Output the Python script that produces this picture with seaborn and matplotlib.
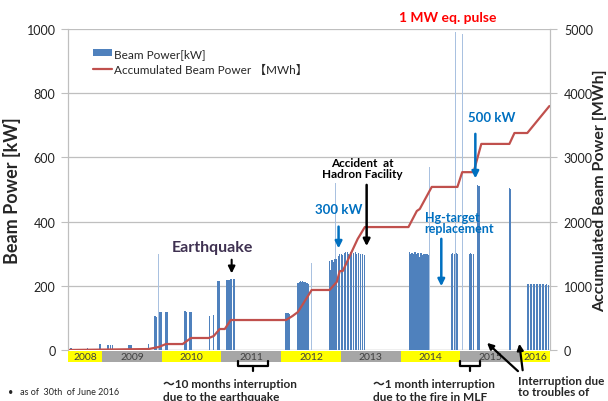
import numpy as np
import matplotlib
matplotlib.use("Agg")
import matplotlib.pyplot as plt
import matplotlib.transforms as mtransforms
from matplotlib.patches import Rectangle, Patch, FancyArrowPatch
from matplotlib.lines import Line2D
import seaborn as sns

# Beam power bars (decimal year, kW)
bar_t = [2008.48, 2008.76, 2008.965, 2009.10, 2009.14, 2009.17, 2009.45, 2009.47, 2009.49, 2009.78,
         2009.885, 2009.91, 2009.97, 2010.00, 2010.07, 2010.10,
         2010.39, 2010.42, 2010.47, 2010.49, 2010.80, 2010.87, 2010.94, 2010.96,
         2011.09, 2011.11, 2011.13, 2011.16, 2011.21,
         2012.08, 2012.10, 2012.12, 2012.14,
         2012.28, 2012.30, 2012.32, 2012.34, 2012.36, 2012.38, 2012.40, 2012.42, 2012.44, 2012.46,
         2012.81, 2012.83, 2012.85, 2012.87, 2012.90, 2012.93, 2012.96, 2012.98, 2013.01, 2013.03,
         2013.06, 2013.08, 2013.11, 2013.13, 2013.16, 2013.18, 2013.21, 2013.24, 2013.26, 2013.30,
         2013.33, 2013.36, 2013.39,
         2014.15, 2014.17, 2014.19, 2014.21, 2014.24, 2014.26, 2014.29, 2014.31, 2014.34, 2014.36,
         2014.39, 2014.41, 2014.44, 2014.46,
         2014.85, 2014.87, 2014.90, 2014.93, 2014.95,
         2015.15, 2015.17, 2015.19, 2015.22, 2015.29, 2015.31, 2015.82, 2015.84,
         2016.12, 2016.145, 2016.17, 2016.195, 2016.22, 2016.245, 2016.27, 2016.295, 2016.32,
         2016.345, 2016.37, 2016.395, 2016.42, 2016.445, 2016.47]
bar_kw = [6, 5, 19, 17, 17, 17, 16, 16, 16, 18,
          106, 104, 118, 118, 117, 118,
          120, 118, 118, 117, 105, 108, 215, 214,
          218, 219, 219, 220, 222,
          115, 116, 114, 112,
          210, 212, 214, 212, 215, 213, 212, 210, 208, 205,
          277, 250, 280, 275, 282, 285, 293, 298, 300, 296,
          302, 305, 304, 298, 306, 300, 303, 305, 300, 302,
          300, 298, 296,
          305, 300, 303, 298, 305, 300, 303, 290, 302, 295,
          300, 298, 300, 297,
          300, 302, 300, 301, 300,
          300, 302, 300, 298, 513, 510, 505, 502,
          205, 206, 205, 206, 207, 206, 207, 205, 206,
          207, 205, 206, 204, 205, 203]

# faint single-shot spikes
spike_t = [2009.95, 2012.23, 2012.51, 2012.91, 2014.48, 2014.92, 2015.035, 2015.16]
spike_kw = [300, 205, 270, 520, 570, 990, 985, 595]

# Accumulated beam power (decimal year, MWh)
acc_t = [2008.43, 2009.78, 2009.95, 2010.07, 2010.35, 2010.49, 2010.79, 2010.87, 2010.97, 2011.055,
         2011.155, 2012.08, 2012.19, 2012.28, 2012.51, 2012.81, 2012.93, 2012.98, 2013.03, 2013.28,
         2013.40, 2014.13, 2014.27, 2014.32, 2014.52, 2014.95, 2015.03, 2015.22, 2015.35, 2015.82,
         2015.905, 2016.12, 2016.49]
acc_mwh = [0, 15, 47, 93, 93, 187, 187, 218, 327, 327,
           467, 467, 530, 592, 935, 935, 1060, 1230, 1230, 1730,
           1915, 1915, 2165, 2197, 2540, 2540, 2770, 2770, 3210, 3210,
           3380, 3380, 3800]

years = [2008, 2009, 2010, 2011, 2012, 2013, 2014, 2015, 2016]
year_start = [2008.43, 2009, 2010, 2011, 2012, 2013, 2014, 2015, 2016]
year_end = [2009, 2010, 2011, 2012, 2013, 2014, 2015, 2016, 2016.5]

sns.set_style("white")
plt.rcParams['font.family'] = ['Lato', 'Noto Sans CJK JP', 'DejaVu Sans']

BLUE = '#4F81BD'
RED = '#C0504D'
GRID = '#BFBFBF'

fig = plt.figure(figsize=(6.08, 4.02), dpi=100)
ax = fig.add_axes([68 / 608, 1 - 351 / 402, 482 / 608, 321 / 402])
ax2 = ax.twinx()

ax.bar(spike_t, spike_kw, width=0.012, color='#A9C1E0', linewidth=0, zorder=2)
ax.bar(bar_t, bar_kw, width=0.02, color=BLUE, linewidth=0, zorder=3)

sns.lineplot(x=acc_t, y=acc_mwh, ax=ax2, color=RED, linewidth=1.6, sort=False)

ax.set_xlim(2008.43, 2016.5)
ax.set_ylim(0, 1000)
ax2.set_ylim(0, 5000)
ax.set_yticks([0, 200, 400, 600, 800, 1000])
ax2.set_yticks([0, 1000, 2000, 3000, 4000, 5000])
ax.set_xticks([])
ax.yaxis.grid(True, color=GRID, linewidth=0.9)
ax.set_axisbelow(True)
ax2.grid(False)
for a in (ax, ax2):
    for s in ('top', 'bottom'):
        a.spines[s].set_visible(False)
    a.spines['left'].set_color(GRID)
    a.spines['right'].set_color(GRID)
ax.tick_params(axis='y', length=5, color=GRID, labelsize=9, labelcolor='#222222', pad=4)
ax2.tick_params(axis='y', length=5, color=GRID, labelsize=9, labelcolor='#222222', pad=5)
ax.axhline(0, color=GRID, linewidth=0.9, zorder=1)

ax.set_ylabel('Beam Power [kW]', fontsize=13, fontweight='bold', labelpad=4)
ax2.set_ylabel('Accumulated Beam Power [MWh]', fontsize=11.5, fontweight='bold', labelpad=0)

# year band below the axis
trans = mtransforms.blended_transform_factory(ax.transData, ax.transAxes)
for i, yr in enumerate(years):
    col = '#FFFF00' if yr % 2 == 0 else '#A6A6A6'
    ax.add_patch(Rectangle((year_start[i], -0.036), year_end[i] - year_start[i], 0.032,
                           transform=trans, facecolor=col, edgecolor='none', clip_on=False))
    ax.text((year_start[i] + year_end[i]) / 2, -0.020, str(yr), transform=trans,
            ha='center', va='center', fontsize=7.5, color='#404040', clip_on=False)

# legend
handles = [Patch(facecolor=BLUE, edgecolor='none'), Line2D([], [], color=RED, linewidth=1.6)]
ax2.legend(handles, ['Beam Power[kW]', 'Accumulated Beam Power 【MWh】'],
           loc='upper left', bbox_to_anchor=(0.03, 0.975), frameon=False, fontsize=8.5,
           handlelength=1.6, handleheight=0.6, handletextpad=0.2, labelspacing=0.45)


def arrow(x, y0, y1, color, lw=1.8):
    ax2.annotate('', xy=(x, y1 * 5), xytext=(x, y0 * 5),
                 arrowprops=dict(arrowstyle='-|>', color=color, lw=lw, mutation_scale=10),
                 annotation_clip=False)


ax2.text(2014.785, 1037 * 5, '1 MW eq. pulse', color='#FF0000', fontsize=10, fontweight='bold',
         ha='center', va='center', clip_on=False)
ax2.text(2015.52, 726 * 5, '500 kW', color='#0070C0', fontsize=9.5, fontweight='bold',
         ha='center', va='center')
arrow(2015.25, 682, 526, '#0070C0')
ax2.text(2014.40, 396 * 5, 'Hg-target\nreplacement', color='#0070C0', fontsize=9, fontweight='bold',
         ha='left', va='center', linespacing=0.9)
arrow(2014.68, 355, 190, '#0070C0')
ax2.text(2012.96, 439 * 5, '300 kW', color='#0070C0', fontsize=9.5, fontweight='bold',
         ha='center', va='center')
arrow(2012.96, 393, 308, '#0070C0')
ax2.text(2013.35, 567 * 5, 'Accident  at\nHadron Facility', color='black', fontsize=8.5,
         fontweight='bold', ha='center', va='center', linespacing=1.1)
arrow(2013.43, 523, 315, 'black')
ax2.text(2010.855, 321 * 5, 'Earthquake', color='#3F3151', fontsize=11.5, fontweight='bold',
         ha='center', va='center')
arrow(2011.17, 290, 230, 'black', lw=1.5)


# texts and marks below the chart (figure pixels)
def fx(x):
    return x / 608


def fy(y):
    return 1 - y / 402


fig.text(fx(163), fy(379), '～10 months interruption\ndue to the earthquake', fontsize=8.5,
         fontweight='bold', ha='left', va='top', linespacing=1.2)
fig.text(fx(373), fy(379), '～1 month interruption\ndue to the fire in MLF', fontsize=8.5,
         fontweight='bold', ha='left', va='top', linespacing=1.2)
fig.text(fx(518), fy(376), 'Interruption due\nto troubles of', fontsize=8.5,
         fontweight='bold', ha='left', va='top', linespacing=1.0)
fig.text(fx(8), fy(393), '•   as of  30th  of June 2016', fontsize=6.5, ha='left', va='center')

for x0, x1 in [(238, 268), (460, 480)]:
    xm = (x0 + x1) / 2
    fig.add_artist(Line2D([fx(x0), fx(x0), fx(x1), fx(x1)], [fy(362), fy(367), fy(367), fy(362)],
                          color='black', linewidth=1.6))
    fig.add_artist(Line2D([fx(xm), fx(xm)], [fy(367), fy(372)], color='black', linewidth=1.6))

for (xs, ys), (xe, ye) in [((520, 374), (485, 342)), ((523, 374), (519, 342))]:
    fig.add_artist(FancyArrowPatch((fx(xs), fy(ys)), (fx(xe), fy(ye)),
                                   transform=fig.transFigure, arrowstyle='-|>',
                                   mutation_scale=9, color='black', linewidth=1.6))

fig.savefig('out.png', dpi=100)
